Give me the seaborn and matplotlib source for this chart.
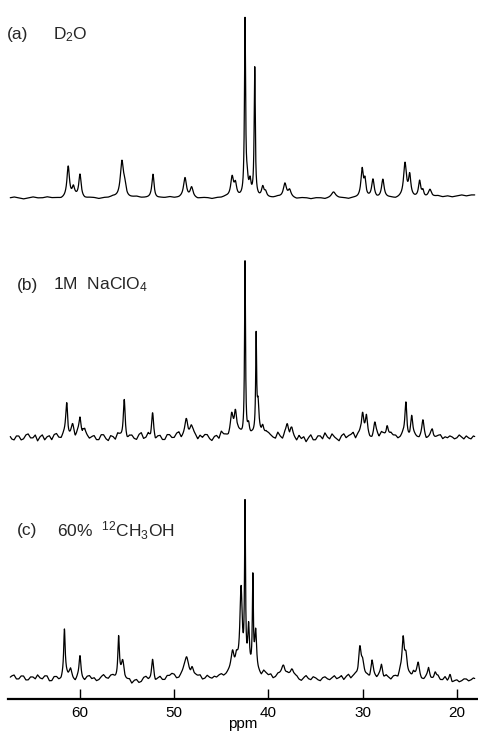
import numpy as np
import pandas as pd
import matplotlib
matplotlib.use("Agg")
import matplotlib.pyplot as plt
import seaborn as sns

# ---------------------------------------------------------------------------
# Spectral data: peak lists (ppm, height, half-width at half-height in ppm)
# and baseline ripple (sampled every 0.5 ppm for trace a, 0.25 ppm for b, c).
# ---------------------------------------------------------------------------
peaks_d2o = [
    (61.25, 31, 0.16), (60.70, 9, 0.15), (60.00, 23, 0.15),
    (55.55, 35, 0.20), (55.25, 10, 0.18), (52.25, 24, 0.14),
    (48.85, 19, 0.18), (48.15, 10, 0.18),
    (43.85, 20, 0.18), (43.50, 12, 0.15),
    (42.48, 176, 0.07), (42.25, 14, 0.12), (41.95, 14, 0.12),
    (41.45, 128, 0.07),
    (40.60, 10, 0.15), (40.30, 5, 0.15),
    (38.25, 14, 0.20), (37.75, 7, 0.18), (33.10, 5, 0.25),
    (30.05, 27, 0.15), (29.75, 15, 0.12), (28.90, 18, 0.16),
    (27.85, 18, 0.16), (25.50, 34, 0.18), (25.00, 20, 0.14),
    (23.95, 16, 0.14), (23.60, 7, 0.14), (22.85, 7, 0.18),
]
baseline_d2o = [
    0, 1, 0, -1, 0, 1, 0, 0, 1, 0,
    0, -1, 0, 0, 1, 0, -1, 0, 0, -1,
    0, 0, 1, 0, 0, -1, 0, 1, 0, 0,
    0, -1, 0, 0, 1, 0, 0, 1, 0, 0,
    -1, 0, 0, -1, 0, 0, 1, 0, 0, 0,
    0, 0, 1, 0, 0, 0, 0, 1, 0, 0,
    0, -1, 0, 0, -1, 0, 0, -1, 0, 1,
    0, 0, -1, 0, 0, 1, 0, 0, -1, 0,
    0, 0, -1, 0, 0, 1, 0, 0, -1, 1,
    1, 2, 1, 2, 1, 2, 3, 2, 3, 3,
]

peaks_naclo4 = [
    (61.40, 32, 0.12), (60.80, 11, 0.18), (60.00, 16, 0.14), (59.70, 7, 0.14),
    (55.30, 41, 0.12), (52.30, 22, 0.12),
    (48.70, 16, 0.20), (48.20, 10, 0.18),
    (43.90, 19, 0.16), (43.50, 25, 0.14),
    (42.48, 174, 0.06), (42.10, 13, 0.14),
    (41.30, 95, 0.06), (41.10, 26, 0.10), (40.60, 12, 0.18),
    (38.00, 11, 0.18), (37.60, 7, 0.18),
    (30.00, 24, 0.14), (29.60, 17, 0.12), (28.70, 13, 0.15), (27.40, 12, 0.15),
    (25.40, 34, 0.12), (24.80, 19, 0.13), (23.60, 15, 0.13), (22.60, 9, 0.15),
]
baseline_naclo4 = [
    2, -2, -3, 1, 1, -3, -2, 2, 3, -1,
    -1, 2, -4, 0, 2, -3, 0, 1, -3, 2,
    3, -1, -2, 2, 4, -3, -1, 1, -3, 3,
    2, -4, 5, 1, -2, 0, 1, -3, -3, 2,
    2, -2, -4, 1, 0, -3, 3, 1, -2, -4,
    -5, 0, 1, -2, -3, 2, 4, -2, -1, 3,
    -2, 3, -4, 0, 1, -3, -3, 2, 2, -1,
    -1, 3, 4, -2, 0, 2, -2, -1, 3, 1,
    -3, 1, -1, 2, 2, -2, -4, 0, 1, -2,
    5, 2, 1, -1, 2, 3, -1, 4, 3, 0,
    0, -2, -3, 1, 2, 4, 5, -1, -2, 3,
    3, 1, -1, -2, 4, 0, -3, 2, 1, -3,
    3, -1, -4, 1, -2, 0, -5, -1, 2, -3,
    -3, 1, 1, -2, 4, 0, -2, 3, 0, -2,
    -4, 1, 3, -1, 1, 2, 4, -2, 2, 3,
    -1, 2, 3, -2, -3, 1, 2, -1, 4, 2,
    -2, 0, 3, 1, 1, -2, -1, 2, 2, -3,
    -3, 2, 1, -1, -2, 1, 2, -3, -1, 1,
    -3, -1, 1, 2, -2, 0, -1, 1, 0, -2,
    -1, 2, 0, -2, 1, -1, -2, 1, 0, -1,
]

peaks_methanol = [
    (61.65, 45, 0.09), (61.00, 7, 0.18), (60.00, 21, 0.12),
    (55.90, 42, 0.10), (55.45, 16, 0.18), (52.30, 18, 0.12),
    (48.70, 19, 0.24), (48.10, 10, 0.18),
    (43.80, 20, 0.18), (43.40, 15, 0.18),
    (42.90, 84, 0.15), (42.48, 160, 0.06), (42.10, 44, 0.11),
    (41.65, 90, 0.06), (41.35, 40, 0.12),
    (38.40, 12, 0.24), (37.50, 9, 0.18),
    (30.30, 27, 0.16), (30.00, 10, 0.18), (29.00, 14, 0.15), (28.00, 11, 0.13),
    (25.70, 36, 0.14), (25.40, 18, 0.15), (24.60, 7, 0.18), (24.10, 12, 0.13),
    (23.00, 7, 0.12), (22.30, 5, 0.12), (20.70, 5, 0.12),
]
baseline_methanol = [
    0, 2, 3, -1, -1, 2, 2, -2, -2, 1,
    1, -1, 3, 0, -1, 2, 2, -3, -3, 1,
    1, -2, -2, 3, 4, 1, 2, -2, -4, 0,
    1, -2, -3, 1, 2, -1, 0, -3, -2, 1,
    3, 0, -1, 2, 2, -1, -3, 0, 1, -4,
    -3, -2, -6, -3, -2, -5, -4, 0, 1, -2,
    -2, 1, -4, -1, 1, -2, -2, 2, 2, 4,
    3, -1, -1, 2, 4, 1, 2, -2, -1, 1,
    1, 2, -2, -1, 2, 0, -1, 1, 0, 2,
    3, 1, 2, 4, 5, 2, 0, 3, 2, 1,
    4, 3, 2, 5, 5, 3, 3, 1, 6, 4,
    2, 3, -1, 0, 3, 2, 1, -1, 2, 1,
    -1, 1, 1, -2, -3, 0, 2, -1, -2, 1,
    0, -2, -3, 0, 1, -1, -2, 0, 2, -1,
    0, 2, -2, 1, 3, -1, 1, 2, -1, 3,
    4, 1, 1, -2, 3, 1, -1, 2, 2, -1,
    2, 0, -2, 1, 1, -1, 5, 2, 3, 1,
    1, -2, -1, 3, 2, -2, -2, 1, 3, -1,
    -1, 1, 2, -2, -2, 1, -3, -1, -5, -3,
    -2, -4, -3, -1, -1, -3, -2, 0, -1, -2,
]

labels = [
    ("(a)", "D$_2$O"),
    ("(b)", "1M  NaClO$_4$"),
    ("(c)", "60%  $^{12}$CH$_3$OH"),
]

# ---------------------------------------------------------------------------
# Layout
# ---------------------------------------------------------------------------
W, H = 478, 732
AXIS_Y = 699                      # pixel row of the ppm axis
offsets = [501, 262, 21]          # vertical stacking of the three traces
label_rows = [35, 285, 531]
label_x = [(7, 53), (17, 53), (17, 57)]


def spectrum(ppm, peaks, ripple, step):
    ripple = np.asarray(ripple, float)
    grid = 67.5 - step * np.arange(len(ripple))
    y = np.interp(ppm[::-1], grid[::-1], ripple[::-1])[::-1]
    for c, h, w in peaks:
        y = y + h * w ** 2 / ((ppm - c) ** 2 + w ** 2)
    return y


ppm = np.linspace(67.4, 18.1, 6000)
frames = []
for name, pk, bl, step, off in [
    ("a", peaks_d2o, baseline_d2o, 0.5, offsets[0]),
    ("b", peaks_naclo4, baseline_naclo4, 0.25, offsets[1]),
    ("c", peaks_methanol, baseline_methanol, 0.25, offsets[2]),
]:
    frames.append(pd.DataFrame({"ppm": ppm,
                                "signal": spectrum(ppm, pk, bl, step) + off,
                                "trace": name}))
df = pd.concat(frames, ignore_index=True)

sns.set_theme(style="white")
plt.rcParams["font.family"] = ["Liberation Sans", "DejaVu Sans"]
plt.rcParams["mathtext.default"] = "regular"

fig = plt.figure(figsize=(W / 100, H / 100), dpi=100)
fig.patch.set_facecolor("white")
ax = fig.add_axes([8 / W, (H - AXIS_Y) / H, (W - 8) / W, AXIS_Y / H])

for name in ["a", "b", "c"]:
    sns.lineplot(data=df[df["trace"] == name], x="ppm", y="signal", ax=ax,
                 color="black", linewidth=0.9, estimator=None, sort=False)

ax.set_xlim(67.64, 17.75)
ax.set_ylim(0, AXIS_Y)
ax.set_facecolor("white")
for side in ["top", "left", "right"]:
    ax.spines[side].set_visible(False)
ax.spines["bottom"].set_linewidth(1.6)
ax.spines["bottom"].set_color("black")
ax.set_yticks([])
ax.set_ylabel("")
ax.set_xticks([60, 50, 40, 30, 20])
ax.tick_params(axis="x", bottom=True, direction="in", length=7, width=1,
               color="black", pad=5, labelsize=11, labelcolor="black")
ax.set_xlabel("ppm", fontsize=11, labelpad=-2, color="black")

for (tag, text), row, (x0, x1) in zip(labels, label_rows, label_x):
    fig.text(x0 / W, 1 - row / H, tag, fontsize=12.5, va="center", ha="left")
    fig.text(x1 / W, 1 - row / H, text, fontsize=12.5, va="center", ha="left")

fig.savefig("out.png", dpi=100, facecolor="white")
